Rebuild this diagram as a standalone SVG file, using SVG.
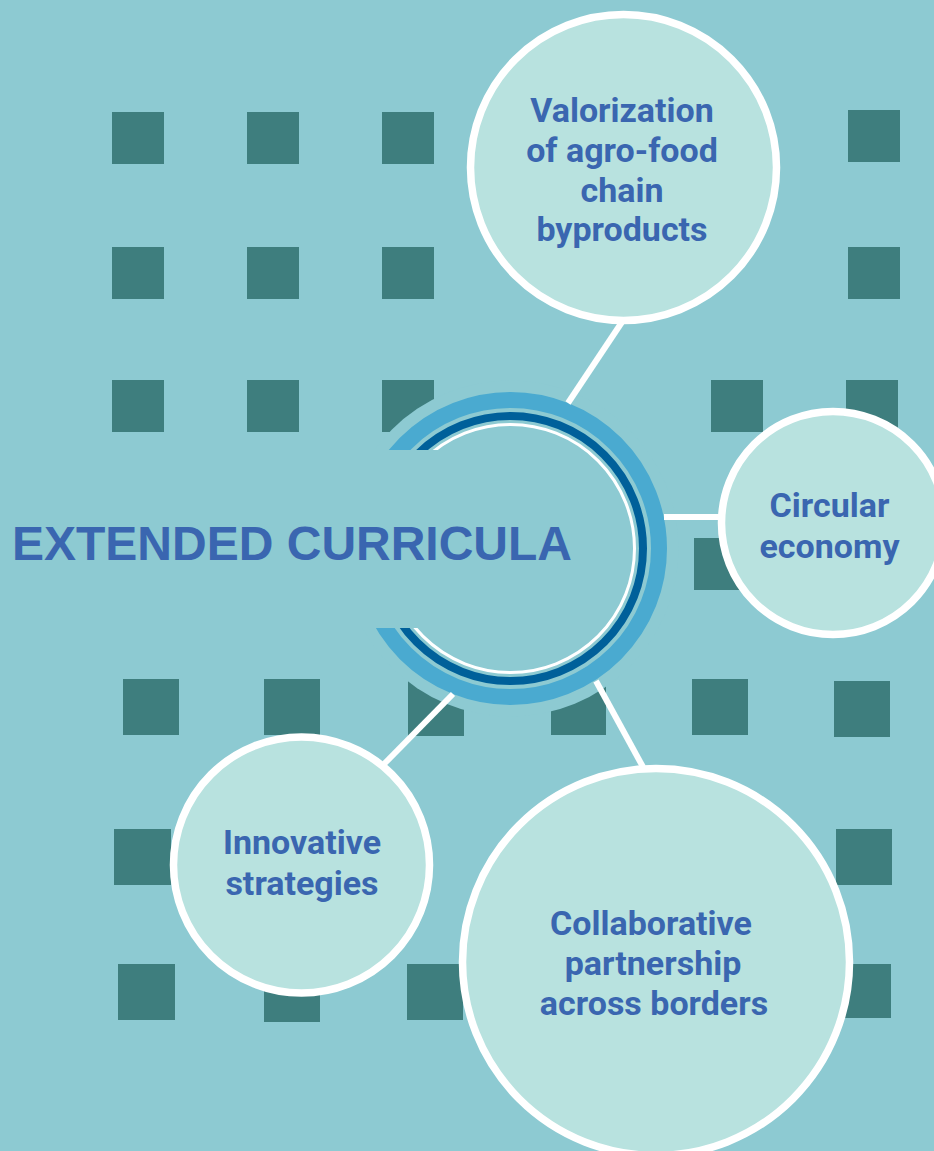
<svg xmlns="http://www.w3.org/2000/svg" width="934" height="1151" viewBox="0 0 934 1151">
<style>
.bg{fill:#8DCAD2}
.sq{fill:#3E7E7E}
.node{fill:#B8E2DF;stroke:#FFFFFF;stroke-width:7.5}
.lbl{font-family:Roboto,"Liberation Sans",sans-serif;font-weight:700;font-size:34px;fill:#3A66B0;text-anchor:middle}
.title{font-family:"Liberation Sans",Arial,sans-serif;font-weight:700;font-size:48px;fill:#3A66B0}
.conn{stroke:#FFFFFF;stroke-width:6;fill:none}
</style>
<rect class="bg" x="0" y="0" width="934" height="1151"/>
<g id="squares">
<rect class="sq" x="112" y="112" width="52" height="52"/>
<rect class="sq" x="247" y="112" width="52" height="52"/>
<rect class="sq" x="382" y="112" width="52" height="52"/>
<rect class="sq" x="848" y="110" width="52" height="52"/>
<rect class="sq" x="112" y="247" width="52" height="52"/>
<rect class="sq" x="247" y="247" width="52" height="52"/>
<rect class="sq" x="382" y="247" width="52" height="52"/>
<rect class="sq" x="848" y="247" width="52" height="52"/>
<rect class="sq" x="112" y="380" width="52" height="52"/>
<rect class="sq" x="247" y="380" width="52" height="52"/>
<rect class="sq" x="382" y="380" width="52" height="52"/>
<rect class="sq" x="711" y="380" width="52" height="52"/>
<rect class="sq" x="846" y="380" width="52" height="52"/>
<rect class="sq" x="694" y="538" width="52" height="52"/>
<rect class="sq" x="123" y="679" width="56" height="56"/>
<rect class="sq" x="264" y="679" width="56" height="56"/>
<rect class="sq" x="408" y="681" width="56" height="55"/>
<rect class="sq" x="551" y="679" width="55" height="56"/>
<rect class="sq" x="692" y="679" width="56" height="56"/>
<rect class="sq" x="834" y="681" width="56" height="56"/>
<rect class="sq" x="114" y="829" width="57" height="56"/>
<rect class="sq" x="836" y="829" width="56" height="56"/>
<rect class="sq" x="118" y="964" width="57" height="56"/>
<rect class="sq" x="264" y="964" width="56" height="58"/>
<rect class="sq" x="407" y="964" width="56" height="56"/>
<rect class="sq" x="834" y="964" width="57" height="54"/>
</g>
<g id="center">
<circle class="bg" cx="510.5" cy="548.5" r="168"/>
<circle cx="510.5" cy="548.5" r="148.5" fill="none" stroke="#4AAAD0" stroke-width="16"/>
<circle cx="510.5" cy="548.5" r="132.5" fill="none" stroke="#00609A" stroke-width="8"/>
<circle cx="510.5" cy="548.5" r="124" fill="none" stroke="#FFFFFF" stroke-width="3"/>
<rect class="bg" x="0" y="450" width="470" height="178"/>
<text class="title" x="12" y="560">EXTENDED CURRICULA</text>
</g>
<g id="connectors">
<line class="conn" x1="568" y1="403" x2="622" y2="322"/>
<line class="conn" x1="664" y1="517" x2="721" y2="517"/>
<line class="conn" x1="453" y1="694" x2="384" y2="764"/>
<line class="conn" x1="596" y1="681" x2="643" y2="767"/>
</g>
<g id="node-valorization">
<circle class="node" cx="623.5" cy="167.5" r="153"/>
<text class="lbl" x="622" y="122">Valorization</text>
<text class="lbl" x="622" y="162">of agro-food</text>
<text class="lbl" x="622" y="202">chain</text>
<text class="lbl" x="622" y="241">byproducts</text>
</g>
<g id="node-circular">
<circle class="node" cx="833" cy="523" r="111.5"/>
<text class="lbl" x="829.5" y="517">Circular</text>
<text class="lbl" x="829.5" y="558">economy</text>
</g>
<g id="node-innovative">
<circle class="node" cx="301.5" cy="865" r="128"/>
<text class="lbl" x="302" y="854">Innovative</text>
<text class="lbl" x="302" y="895">strategies</text>
</g>
<g id="node-collaborative">
<circle class="node" cx="656" cy="962" r="193.5"/>
<text class="lbl" x="651" y="935">Collaborative</text>
<text class="lbl" x="653" y="975">partnership</text>
<text class="lbl" x="654" y="1015">across borders</text>
</g>
</svg>
